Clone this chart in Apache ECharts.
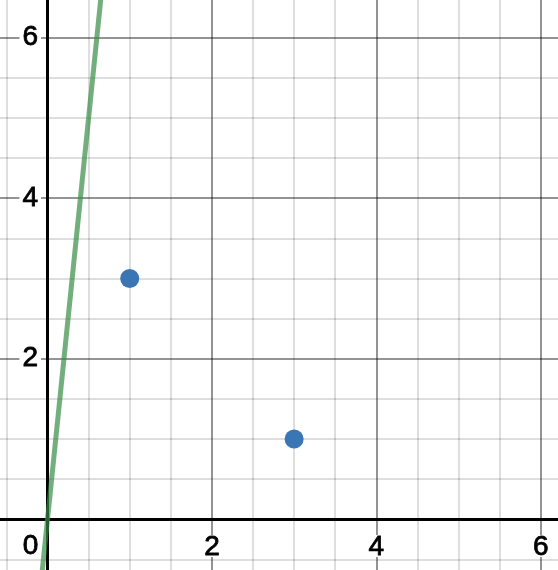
<!DOCTYPE html>
<html>
<head>
<meta charset="utf-8">
<script src="https://cdn.jsdelivr.net/npm/echarts@6/dist/echarts.min.js"></script>
<style>
html,body{margin:0;padding:0;background:#fff;}
#chart{width:558px;height:570px;}
</style>
</head>
<body>
<div id="chart"></div>
<script>
// Data
var pointsX = [1, 3];
var pointsY = [3, 1];
var lineX = [-0.1, 0.7];   // y = 10x
var lineY = [-1, 7];
var xTickLabels = [0, 2, 4, 6];
var yTickLabels = [2, 4, 6];
var gridMajorX = [2, 4, 6];
var gridMinorX = [-0.5, 0.5, 1, 1.5, 2.5, 3, 3.5, 4.5, 5, 5.5];
var gridMajorY = [2, 4, 6];
var gridMinorY = [-0.5, 0.5, 1, 1.5, 2.5, 3, 3.5, 4.5, 5, 5.5];

var minorStyle = {color: 'rgba(0,0,0,0.13)', width: 2, type: 'solid'};
var majorStyle = {color: 'rgba(0,0,0,0.42)', width: 2, type: 'solid'};

var gridLines = [];
gridMinorX.forEach(function (v) { gridLines.push({xAxis: v, lineStyle: minorStyle}); });
gridMinorY.forEach(function (v) { gridLines.push({yAxis: v, lineStyle: minorStyle}); });
gridMajorX.forEach(function (v) { gridLines.push({xAxis: v, lineStyle: majorStyle}); });
gridMajorY.forEach(function (v) { gridLines.push({yAxis: v, lineStyle: majorStyle}); });

var labelFont = {
  color: '#000',
  fontSize: 28,
  fontFamily: 'Liberation Sans, Arial, sans-serif',
  textBorderColor: '#000',
  textBorderWidth: 0.8
};

var chart = echarts.init(document.getElementById('chart'), null, {renderer: 'canvas'});
chart.setOption({
  animation: false,
  backgroundColor: '#fff',
  grid: {left: 0, right: 0, top: 0, bottom: 0, containLabel: false, outerBoundsMode: 'none'},
  xAxis: {
    type: 'value',
    z: 8,
    min: -0.578,
    max: 6.21,
    axisLine: {show: true, onZero: true, lineStyle: {color: '#000', width: 3}},
    axisTick: {show: false},
    splitLine: {show: false},
    axisLabel: Object.assign({
      show: true,
      inside: true,
      customValues: xTickLabels,
      margin: 24,
      verticalAlign: 'middle',
      align: 'center',
      formatter: function (v) { return v === 0 ? '{zero|0}' : '{n|' + v + '}'; },
      rich: {
        zero: Object.assign({padding: [0, 34, 0, 0]}, labelFont),
        n: Object.assign({backgroundColor: '#fff', padding: [-2, 3, -4, 3]}, labelFont)
      }
    }, labelFont)
  },
  yAxis: {
    type: 'value',
    z: 8,
    min: -0.631,
    max: 6.467,
    axisLine: {show: true, onZero: true, lineStyle: {color: '#000', width: 3}},
    axisTick: {show: false},
    splitLine: {show: false},
    axisLabel: Object.assign({
      show: true,
      inside: true,
      customValues: yTickLabels,
      margin: 41,
      align: 'right',
      verticalAlign: 'middle',
      backgroundColor: '#fff',
      padding: [0, 3, 0, 3]
    }, labelFont)
  },
  series: [
    {
      type: 'line',
      z: 1,
      data: [],
      silent: true,
      markLine: {
        silent: true,
        symbol: ['none', 'none'],
        label: {show: false},
        emphasis: {disabled: true},
        animation: false,
        data: gridLines
      }
    },
    {
      type: 'line',
      z: 10,
      data: lineX.map(function (x, i) { return [x, lineY[i]]; }),
      showSymbol: false,
      symbol: 'none',
      clip: true,
      lineStyle: {color: '#388c46', opacity: 0.7, width: 5},
      silent: true
    },
    {
      type: 'scatter',
      z: 11,
      data: pointsX.map(function (x, i) { return [x, pointsY[i]]; }),
      symbolSize: 19,
      itemStyle: {color: '#3a75b6', opacity: 1},
      silent: true
    }
  ]
});
</script>
</body>
</html>
